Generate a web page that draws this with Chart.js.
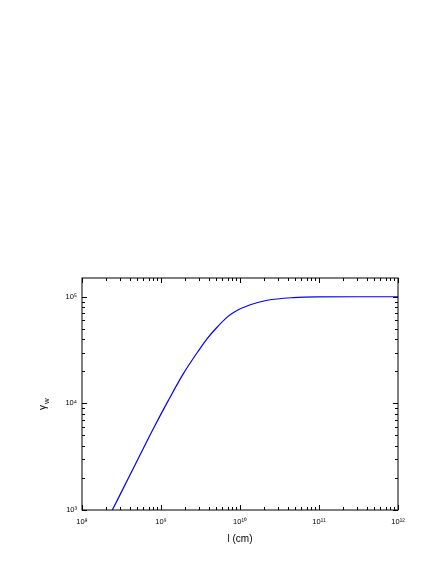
<!DOCTYPE html>
<html>
<head>
<meta charset="utf-8">
<script src="https://cdn.jsdelivr.net/npm/chart.js@4/dist/chart.umd.min.js"></script>
<style>
  html, body { margin: 0; padding: 0; background: #fff; }
  #wrap { width: 436px; height: 564px; }
</style>
</head>
<body>
<div id="wrap"><canvas id="gammaChart"></canvas></div>
<script>
// values (l in cm, gamma_w)
const lengths = [2.42e8, 4.37e8, 7.87e8, 1.23e9, 1.92e9, 3.04e9, 3.84e9, 4.99e9, 6.88e9, 8.69e9, 1.35e10, 2.21e10, 4.72e10, 9.5e10, 3e11, 1e12];
const gammaW = [1000, 2380, 5660, 10550, 19000, 31800, 40500, 50700, 64400, 72800, 84100, 92700, 98200, 99800, 100000, 100000];
const xTicks = [1e8, 1e9, 1e10, 1e11, 1e12];
const yTicks = [1e3, 1e4, 1e5];
const sup = { '0': '⁰', '1': '¹', '2': '²', '3': '³', '4': '⁴', '5': '⁵', '6': '⁶', '7': '⁷', '8': '⁸', '9': '⁹' };

function powLabel(v) {
  const e = Math.round(Math.log10(v));
  return '10' + String(e).split('').map(c => sup[c]).join('');
}

// inward ticks on all four sides + frame + y title
const framePlugin = {
  id: 'frame',
  afterDraw(chart) {
    const ctx = chart.ctx;
    const a = chart.chartArea;
    const xs = chart.scales.x;
    const ys = chart.scales.y;
    ctx.save();
    ctx.strokeStyle = '#000';
    ctx.lineWidth = 1;
    ctx.strokeRect(a.left, a.top, a.right - a.left, a.bottom - a.top);

    function tick(x1, y1, x2, y2) {
      ctx.beginPath();
      ctx.moveTo(x1, y1);
      ctx.lineTo(x2, y2);
      ctx.stroke();
    }
    for (let e = 8; e <= 12; e++) {
      for (let m = 1; m <= 9; m++) {
        const v = m * Math.pow(10, e);
        if (v > 1e12) break;
        const px = Math.round(xs.getPixelForValue(v)) + 0.5;
        const len = m === 1 ? 5 : 3;
        tick(px, a.bottom, px, a.bottom - len);
        tick(px, a.top, px, a.top + len);
      }
    }
    for (let e = 3; e <= 5; e++) {
      for (let m = 1; m <= 9; m++) {
        const v = m * Math.pow(10, e);
        if (v > 150000) break;
        const py = Math.round(ys.getPixelForValue(v)) + 0.5;
        const len = m === 1 ? 5 : 3;
        tick(a.left, py, a.left + len, py);
        tick(a.right, py, a.right - len, py);
      }
    }

    // y axis title: gamma with subscript w
    ctx.translate(43, 404);
    ctx.rotate(-Math.PI / 2);
    ctx.fillStyle = '#000';
    ctx.textBaseline = 'middle';
    ctx.font = '10px "Liberation Sans", Arial, sans-serif';
    ctx.fillText('γ', -6, 0);
    ctx.font = '8px "Liberation Sans", Arial, sans-serif';
    ctx.fillText('w', 0, 4);
    ctx.restore();
  }
};

const ctx = document.getElementById('gammaChart').getContext('2d');
new Chart(ctx, {
  type: 'line',
  data: {
    datasets: [{
      data: lengths.map((l, i) => ({ x: l, y: gammaW[i] })),
      borderColor: '#0000ff',
      borderWidth: 1.2,
      pointRadius: 0,
      cubicInterpolationMode: 'monotone',
      fill: false
    }]
  },
  options: {
    responsive: true,
    maintainAspectRatio: false,
    animation: false,
    layout: { padding: { top: 278, right: 38, left: 0, bottom: 0 } },
    plugins: { legend: { display: false }, tooltip: { enabled: false } },
    scales: {
      x: {
        type: 'logarithmic',
        min: 1e8,
        max: 1e12,
        afterBuildTicks: s => { s.ticks = xTicks.map(v => ({ value: v })); },
        afterFit: s => { s.height = 54; },
        grid: { display: false, drawTicks: false },
        border: { display: false },
        ticks: {
          callback: v => powLabel(v),
          color: '#000',
          padding: 7,
          maxRotation: 0,
          font: { family: '"Liberation Sans", Arial, sans-serif', size: 7.5 }
        },
        title: {
          display: true,
          text: 'l (cm)',
          color: '#000',
          padding: { top: 4, bottom: 19 },
          font: { family: '"Liberation Sans", Arial, sans-serif', size: 10 }
        }
      },
      y: {
        type: 'logarithmic',
        min: 1000,
        max: 150000,
        afterBuildTicks: s => { s.ticks = yTicks.map(v => ({ value: v })); },
        afterFit: s => { s.width = 82; },
        grid: { display: false, drawTicks: false },
        border: { display: false },
        ticks: {
          callback: v => powLabel(v),
          color: '#000',
          padding: 5,
          font: { family: '"Liberation Sans", Arial, sans-serif', size: 7.5 }
        }
      }
    }
  },
  plugins: [framePlugin]
});
</script>
</body>
</html>
